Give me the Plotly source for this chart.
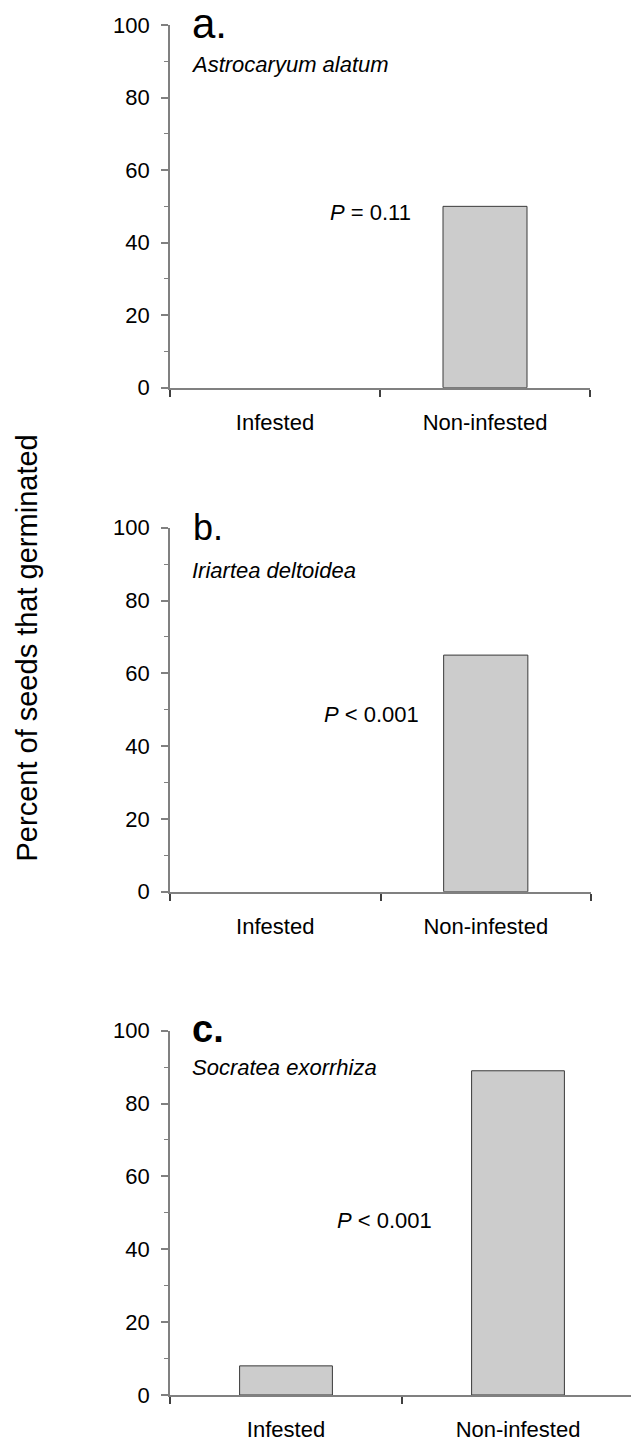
import plotly.graph_objects as go

W, H = 631, 1441

categories = ["Infested", "Non-infested"]
values_a = [0, 50]
values_b = [0, 65]
values_c = [8, 89]
panel_letters = ["a.", "b.", "c."]
species = ["Astrocaryum alatum", "Iriartea deltoidea", "Socratea exorrhiza"]
p_texts = ["<i>P</i> = 0.11", "<i>P</i> < 0.001", "<i>P</i> < 0.001"]
y_tickvals = [0, 20, 40, 60, 80, 100]
y_title = "Percent of seeds that germinated"

FONT = "Liberation Sans, Arial, Helvetica, sans-serif"
AXC = "#808080"

def px_x(p):
    return p / W

def px_y(p):
    return 1 - p / H

# panel geometry in pixels: (x_left, x_right, y_top, y_bottom, x_range_max)
panels = [
    (170, 590, 25.0, 387.7, 1.5),
    (170, 591, 527.7, 891.7, 1.5),
    (170, 631, 1030.7, 1395.0, -0.5 + 461 / 232),
]

fig = go.Figure()
series = [values_a, values_b, values_c]
for i, vals in enumerate(series):
    k = "" if i == 0 else str(i + 1)
    fig.add_trace(go.Bar(
        x=categories, y=vals, width=0.4,
        marker=dict(color="#cccccc",
                    line=dict(color="#3a3a3a", width=[0 if v == 0 else 1 for v in vals])),
        xaxis="x" + k, yaxis="y" + k, showlegend=False, hoverinfo="skip",
    ))

layout = dict(
    template="none",
    width=W, height=H, margin=dict(l=0, r=0, t=0, b=0, pad=0, autoexpand=False),
    paper_bgcolor="white", plot_bgcolor="white",
    font=dict(family=FONT, size=22, color="black"),
    showlegend=False,
)
for i, (xl, xr, yt, yb, xmax) in enumerate(panels):
    k = "" if i == 0 else str(i + 1)
    layout["xaxis" + k] = dict(
        domain=[px_x(xl), px_x(xr)], anchor="y" + k,
        type="category", categoryorder="array", categoryarray=categories,
        range=[-0.5, xmax], tickson="boundaries", automargin=False,
        ticks="outside", ticklen=7, tickwidth=1.5, tickcolor="#404040",
        showline=True, linecolor=AXC, linewidth=1.8,
        showgrid=False, zeroline=False,
        tickfont=dict(size=22, family=FONT, color="black"),
        ticklabelstandoff=14, fixedrange=True,
    )
    layout["yaxis" + k] = dict(
        domain=[px_y(yb), px_y(yt)], anchor="x" + k,
        range=[0, 100], tickvals=y_tickvals, automargin=False,
        ticks="outside", ticklen=7, tickwidth=1.5, tickcolor=AXC,
        minor=dict(dtick=10, ticks="outside", ticklen=4, tickwidth=1.2, tickcolor=AXC, showgrid=False),
        showline=True, linecolor=AXC, linewidth=1.8,
        showgrid=False, zeroline=False,
        tickfont=dict(size=22, family=FONT, color="black"),
        ticklabelstandoff=7, fixedrange=True,
    )

annotations = []
letter_pos = [(190, 23.0, 42), (191, 528.0, 36), (190, 1028.6, 38)]
for i, (lx, ly, sz) in enumerate(letter_pos):
    txt = panel_letters[i] if i < 2 else "<b>" + panel_letters[i] + "</b>"
    annotations.append(dict(
        x=px_x(lx), y=px_y(ly), xref="paper", yref="paper",
        xanchor="left", yanchor="middle", showarrow=False,
        text=txt, font=dict(size=sz, family=FONT, color="black"),
    ))
species_pos = [(189, 65.0), (190, 570.0), (190, 1067.0)]
for i, (sx, sy) in enumerate(species_pos):
    annotations.append(dict(
        x=px_x(sx), y=px_y(sy), xref="paper", yref="paper",
        xanchor="left", yanchor="middle", showarrow=False,
        text="<i>" + species[i] + "</i>", font=dict(size=22, family=FONT, color="black"),
    ))
p_pos = [(328, 212.7), (321.7, 714.7), (335, 1220.5)]
for i, (qx, qy) in enumerate(p_pos):
    annotations.append(dict(
        x=px_x(qx), y=px_y(qy), xref="paper", yref="paper",
        xanchor="left", yanchor="middle", showarrow=False,
        text=p_texts[i], font=dict(size=22, family=FONT, color="black"),
    ))
annotations.append(dict(
    x=px_x(26), y=px_y(648.5), xref="paper", yref="paper",
    xanchor="center", yanchor="middle", showarrow=False, textangle=-90,
    text=y_title, font=dict(size=29, family=FONT, color="black"),
))
layout["annotations"] = annotations

fig.update_layout(**layout)
fig.write_html("out.html", config={"displayModeBar": False})
